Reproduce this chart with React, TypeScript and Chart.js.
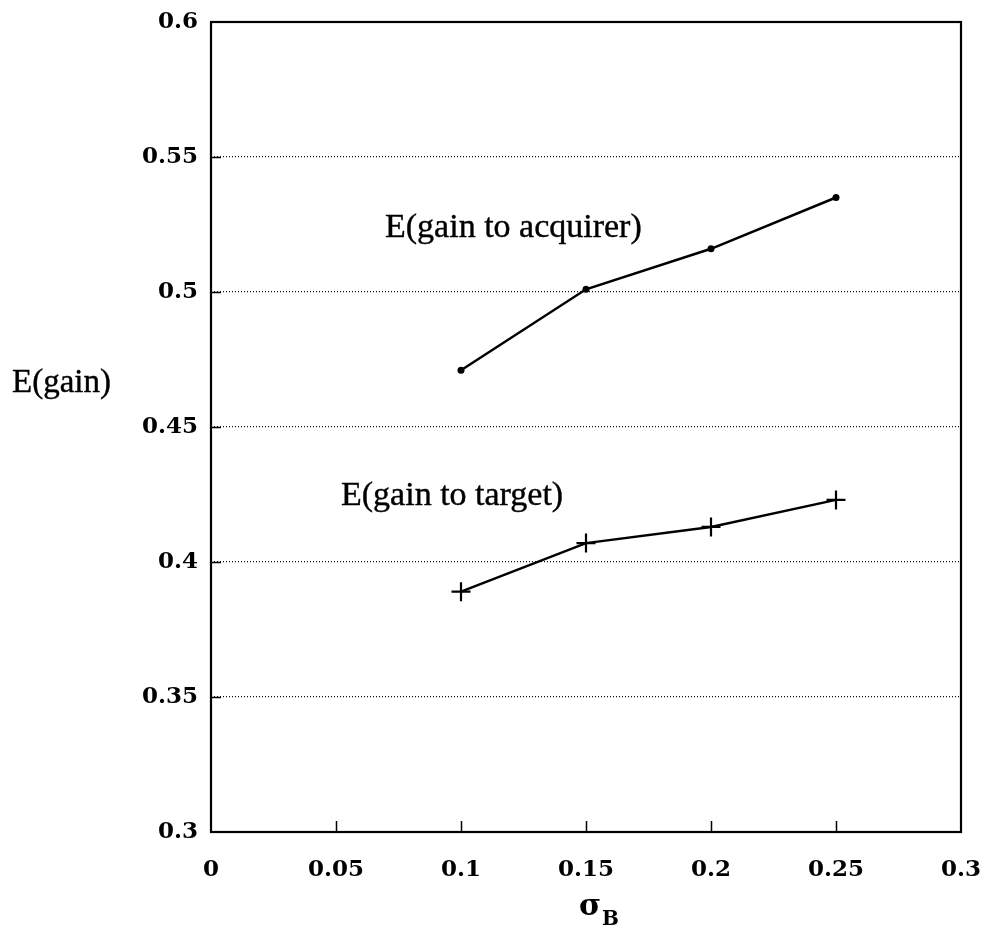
import { useEffect, useRef } from "react";
import { Chart, registerables } from "chart.js";

Chart.register(...registerables);

// Expected gain as a function of the bidder's volatility σ_B
const sigmaB = [0.1, 0.15, 0.2, 0.25];
const gainToAcquirer = [0.471, 0.501, 0.516, 0.535];
const gainToTarget = [0.389, 0.407, 0.413, 0.423];

const xTickValues = [0, 0.05, 0.1, 0.15, 0.2, 0.25, 0.3];
const xTickLabels = ["0", "0.05", "0.1", "0.15", "0.2", "0.25", "0.3"];
const yTickValues = [0.3, 0.35, 0.4, 0.45, 0.5, 0.55, 0.6];
const yTickLabels = ["0.3", "0.35", "0.4", "0.45", "0.5", "0.55", "0.6"];

const acquirerLabel = "E(gain to acquirer)";
const targetLabel = "E(gain to target)";
const yTitle = "E(gain)";

const W = 988;
const H = 929;
const TICK_FONT = "DejaVu Serif";
const TEXT_FONT = "Liberation Serif";

// draws text with a thin outline so it reads a little heavier
function heavyText(ctx: CanvasRenderingContext2D, s: string, x: number, y: number) {
  ctx.fillText(s, x, y);
  ctx.strokeText(s, x, y);
}

// Frame, inward tick marks and free text drawn on top of the plot
const framePlugin = {
  id: "frame",
  afterDraw(chart: any) {
    const { ctx, chartArea } = chart;
    const { left, top, right, bottom } = chartArea;
    const x = chart.scales.x;
    const y = chart.scales.y;
    ctx.save();
    ctx.strokeStyle = "#000";
    ctx.lineWidth = 2.2;
    ctx.strokeRect(left, top, right - left, bottom - top);

    ctx.lineWidth = 1.5;
    ctx.beginPath();
    for (const v of xTickValues.slice(1, -1)) {
      const px = Math.round(x.getPixelForValue(v)) + 0.5;
      ctx.moveTo(px, bottom);
      ctx.lineTo(px, bottom - 11);
    }
    for (const v of yTickValues.slice(1, -1)) {
      const py = Math.round(y.getPixelForValue(v)) + 0.5;
      ctx.moveTo(left, py);
      ctx.lineTo(left + 10, py);
    }
    ctx.stroke();

    ctx.fillStyle = "#000";
    ctx.strokeStyle = "#000";
    ctx.lineWidth = 0.4;
    ctx.textAlign = "left";
    ctx.textBaseline = "alphabetic";
    ctx.font = `34px "${TEXT_FONT}"`;
    heavyText(ctx, acquirerLabel, x.getPixelForValue(0.0696), y.getPixelForValue(0.5204));
    heavyText(ctx, targetLabel, x.getPixelForValue(0.052), y.getPixelForValue(0.4211));
    ctx.font = `33px "${TEXT_FONT}"`;
    heavyText(ctx, yTitle, 12, 392);

    // σ with subscript B
    ctx.font = `bold 30px "${TICK_FONT}"`;
    ctx.fillText("σ", 579, 915);
    ctx.font = `bold 20px "${TICK_FONT}"`;
    ctx.fillText("B", 602, 925);
    ctx.restore();
  },
};

export default function App() {
  const ref = useRef<HTMLCanvasElement | null>(null);

  useEffect(() => {
    if (!ref.current) return;
    const chart = new Chart(ref.current, {
      type: "line",
      data: {
        datasets: [
          {
            label: acquirerLabel,
            data: sigmaB.map((s, i) => ({ x: s, y: gainToAcquirer[i] })),
            borderColor: "#000",
            backgroundColor: "#000",
            borderWidth: 2.5,
            pointStyle: "circle",
            pointRadius: 3.5,
            pointBorderWidth: 0,
            tension: 0,
          },
          {
            label: targetLabel,
            data: sigmaB.map((s, i) => ({ x: s, y: gainToTarget[i] })),
            borderColor: "#000",
            backgroundColor: "#000",
            borderWidth: 2.5,
            pointStyle: "cross",
            pointRadius: 9.5,
            pointBorderWidth: 2.2,
            tension: 0,
          },
        ],
      },
      options: {
        animation: false,
        responsive: false,
        devicePixelRatio: 1,
        layout: { padding: { top: 22, right: 27, left: 0, bottom: 0 } },
        plugins: {
          legend: { display: false },
          tooltip: { enabled: false },
        },
        scales: {
          x: {
            type: "linear",
            min: 0,
            max: 0.3,
            afterFit(scale: any) {
              scale.height = 97;
              scale.paddingLeft = 0;
              scale.paddingRight = 0;
            },
            afterBuildTicks(scale: any) {
              scale.ticks = xTickValues.map((v) => ({ value: v }));
            },
            border: { display: false },
            grid: { display: false, drawTicks: false },
            ticks: {
              padding: 24,
              color: "#000",
              maxRotation: 0,
              autoSkip: false,
              font: { family: TICK_FONT, size: 23, weight: "bold" },
              callback: (v: any) => xTickLabels[xTickValues.findIndex((t) => Math.abs(t - v) < 1e-9)],
            },
          },
          y: {
            type: "linear",
            min: 0.3,
            max: 0.6,
            afterFit(scale: any) {
              scale.width = 211;
              scale.paddingTop = 0;
              scale.paddingBottom = 0;
            },
            afterBuildTicks(scale: any) {
              scale.ticks = yTickValues.map((v) => ({ value: v }));
            },
            border: { display: false },
            grid: {
              drawTicks: false,
              lineWidth: 1.2,
              color: (c: any) => {
                const v = c.tick ? c.tick.value : 0;
                return Math.abs(v - 0.3) < 1e-9 || Math.abs(v - 0.6) < 1e-9 ? "rgba(0,0,0,0)" : "#111";
              },
            },
            ticks: {
              padding: 13,
              color: "#000",
              autoSkip: false,
              font: { family: TICK_FONT, size: 23, weight: "bold" },
              callback: (v: any) => yTickLabels[yTickValues.findIndex((t) => Math.abs(t - v) < 1e-9)],
            },
          },
        },
      } as any,
      plugins: [framePlugin],
    });
    // dotted horizontal grid lines
    (chart.options.scales as any).y.grid.borderDash = [1, 2];
    (chart.options.scales as any).y.border = { display: false, dash: [1, 2] };
    chart.update();
    return () => chart.destroy();
  }, []);

  return (
    <div style={{ position: "absolute", left: 0, top: 0, width: W, height: H, background: "#fff" }}>
      <canvas ref={ref} width={W} height={H} style={{ width: W, height: H, display: "block" }} />
    </div>
  );
}
